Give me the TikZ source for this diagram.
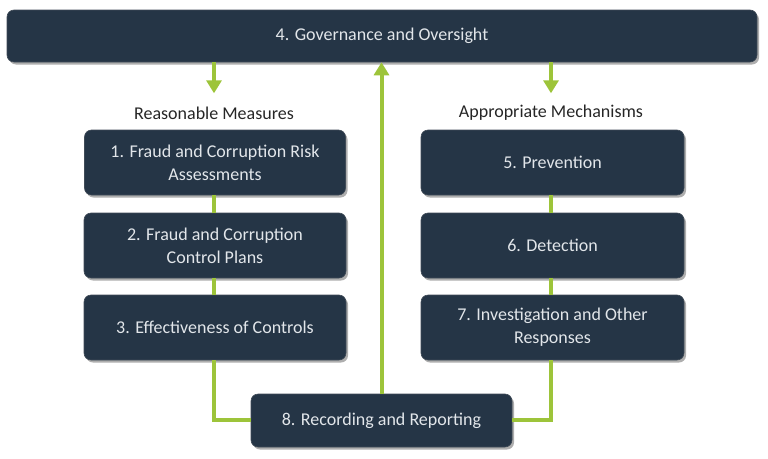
\documentclass[tikz,border=0pt]{standalone}
\usepackage{fontspec}
\setmainfont{Carlito}
\usetikzlibrary{shadows,arrows.meta}
\definecolor{boxfill}{HTML}{253546}
\definecolor{linkgreen}{HTML}{9DC43A}
\definecolor{boxtext}{HTML}{E2E6EA}
\tikzset{
  stepbox/.style={draw=boxfill!70!gray, line width=0.6pt, fill=boxfill, rounded corners=7pt,
    text=boxtext, align=center, font=\fontsize{18}{23}\selectfont,
    drop shadow={shadow xshift=2pt, shadow yshift=-2.5pt, opacity=0.45, fill=black!70}},
  grouplabel/.style={font=\fontsize{18}{23}\selectfont, text=black!85},
  link/.style={draw=linkgreen, line width=4pt},
  linkarrow/.style={link, -{Triangle[width=15pt,length=13pt]}, shorten >=0pt}
}
\begin{document}
\begin{tikzpicture}[x=1pt,y=-1pt]
\useasboundingbox (0,0) rectangle (768,458);
\coordinate (lc) at (214,420);
\coordinate (rc) at (551,420);
\node[stepbox, minimum width=750pt, minimum height=52pt] (b4) at (382,36) {4. Governance and Oversight};
\node[stepbox, minimum width=261pt, minimum height=65pt] (b1) at (215,162.5) {1. Fraud and Corruption Risk\\Assessments};
\node[stepbox, minimum width=262pt, minimum height=65pt] (b2) at (215,245.5) {2. Fraud and Corruption\\Control Plans};
\node[stepbox, minimum width=262pt, minimum height=65pt] (b3) at (215,327.5) {3. Effectiveness of Controls};
\node[stepbox, minimum width=263pt, minimum height=65pt] (b5) at (552.5,162.5) {5. Prevention};
\node[stepbox, minimum width=263pt, minimum height=65pt] (b6) at (552.5,245.5) {6. Detection};
\node[stepbox, minimum width=263pt, minimum height=65pt] (b7) at (552.5,327.5) {7. Investigation and Other\\Responses};
\node[stepbox, minimum width=261pt, minimum height=53pt] (b8) at (381.5,420.5) {8. Recording and Reporting};
\node[grouplabel] (lm) at (214,113) {Reasonable Measures};
\node[grouplabel] (rm) at (551,113) {Appropriate Mechanisms};
% links between stacked boxes
\draw[link] (b1.south -| lc) -- (b2.north -| lc);
\draw[link] (b2.south -| lc) -- (b3.north -| lc);
\draw[link] (b5.south -| rc) -- (b6.north -| rc);
\draw[link] (b6.south -| rc) -- (b7.north -| rc);
\draw[link] (b3.south -| lc) -- (lc) -- (b8.west |- lc);
\draw[link] (b7.south -| rc) -- (rc) -- (b8.east |- rc);
\draw[linkarrow] (b4.south -| lc) -- ++(0,31);
\draw[linkarrow] (b4.south -| rc) -- ++(0,31);
\draw[linkarrow] (b8.north) -- (b4.south -| b8.north);
\end{tikzpicture}
\end{document}
